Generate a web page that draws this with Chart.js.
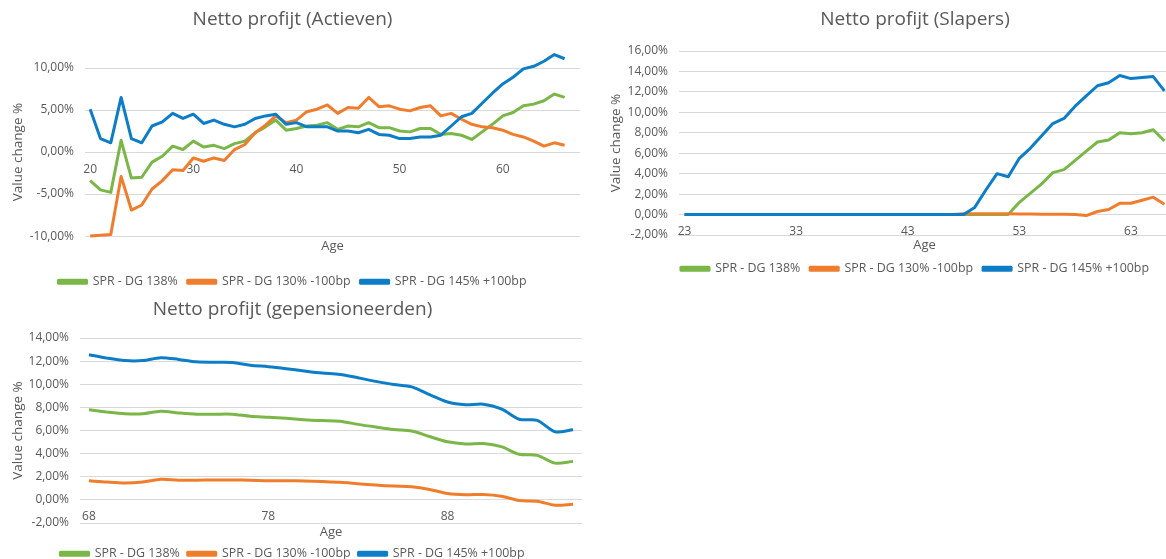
<!DOCTYPE html>
<html>
<head>
<meta charset="utf-8">
<script src="https://cdn.jsdelivr.net/npm/chart.js@4"></script>
<style>
html, body { margin: 0; padding: 0; background: #fff; width: 1166px; height: 559px; overflow: hidden; position: relative; }
.box { position: absolute; }
</style>
</head>
<body>
<div class="box" style="left:0;top:0;width:585px;height:298px"><canvas id="actieven"></canvas></div>
<div class="box" style="left:598px;top:0;width:634px;height:285px"><canvas id="slapers"></canvas></div>
<div class="box" style="left:0;top:295px;width:585px;height:275px"><canvas id="pension"></canvas></div>
<script>
// Netto profijt (Actieven)
const actAges = [20,21,22,23,24,25,26,27,28,29,30,31,32,33,34,35,36,37,38,39,40,41,42,43,44,45,46,47,48,49,50,51,52,53,54,55,56,57,58,59,60,61,62,63,64,65,66,67];
const actGreen = [-3.4,-4.5,-4.8,1.4,-3.1,-3.0,-1.2,-0.5,0.7,0.3, 1.3,0.6,0.8,0.4,1.0,1.3,2.3,3.0,3.8,2.6, 2.8,3.1,3.2,3.5,2.7,3.1,3.0,3.5,2.9,2.9, 2.5,2.4,2.8,2.8,2.1,2.2,2.0,1.5,2.4,3.3, 4.3,4.7,5.5,5.7,6.1,6.9,6.5];
const actOrange = [-10.0,-9.9,-9.8,-2.9,-6.9,-6.3,-4.4,-3.4,-2.1,-2.2, -0.7,-1.1,-0.7,-1.0,0.3,0.9,2.3,3.2,4.3,3.5, 3.8,4.8,5.1,5.6,4.6,5.3,5.2,6.5,5.4,5.5, 5.1,4.9,5.3,5.5,4.3,4.6,3.9,3.3,3.0,2.9, 2.6,2.1,1.8,1.3,0.7,1.1,0.8];
const actBlue = [5.1,1.6,1.1,6.5,1.6,1.1,3.1,3.6,4.6,4.0, 4.5,3.4,3.8,3.3,3.0,3.3,4.0,4.3,4.5,3.3, 3.5,3.0,3.0,3.0,2.5,2.5,2.3,2.7,2.1,2.0, 1.6,1.6,1.8,1.8,2.0,3.1,4.2,4.6,5.8,7.0, 8.1,8.9,9.9,10.2,10.8,11.6,11.1];

// Netto profijt (Slapers)
const slapAges = [23,24,25,26,27,28,29,30,31,32,33,34,35,36,37,38,39,40,41,42,43,44,45,46,47,48,49,50,51,52,53,54,55,56,57,58,59,60,61,62,63,64,65,66];
const slapGreen = [0,0,0,0,0,0,0,0,0,0, 0,0,0,0,0,0,0,0,0,0, 0,0,0,0,0,0,0,0,0,0, 1.2,2.1,3.0,4.1,4.4,5.3,6.2,7.1,7.3,8.0, 7.9,8.0,8.3,7.2];
const slapOrange = [0,0,0,0,0,0,0,0,0,0, 0,0,0,0,0,0,0,0,0,0, 0,0,0,0,0,0.08,0.08,0.08,0.07,0.07, 0.06,0.05,0.04,0.03,0.02,0.0,-0.1,0.3,0.5,1.1, 1.1,1.4,1.7,1.0];
const slapBlue = [0,0,0,0,0,0,0,0,0,0, 0,0,0,0,0,0,0,0,0,0, 0,0,0,0,0,0,0.7,2.4,4.0,3.7, 5.5,6.5,7.7,8.9,9.4,10.6,11.6,12.6,12.9,13.6, 13.3,13.4,13.5,12.1];

// Netto profijt (gepensioneerden)
const pensAges = [68,69,70,71,72,73,74,75,76,77,78,79,80,81,82,83,84,85,86,87,88,89,90,91,92,93,94,95];
const pensGreen = [7.79,7.59,7.44,7.44,7.67,7.52,7.41,7.41,7.41,7.23, 7.15,7.06,6.94,6.86,6.8,6.53,6.3,6.09,5.95,5.48, 5.02,4.84,4.87,4.6,3.94,3.85,3.18,3.33];
const pensOrange = [1.66,1.54,1.46,1.54,1.78,1.7,1.7,1.72,1.72,1.7, 1.66,1.66,1.63,1.58,1.52,1.4,1.28,1.19,1.13,0.9, 0.55,0.44,0.47,0.32,-0.06,-0.12,-0.46,-0.37];
const pensBlue = [12.55,12.26,12.05,12.05,12.3,12.15,11.94,11.9,11.88,11.64, 11.52,11.35,11.15,10.97,10.85,10.56,10.25,9.98,9.77,9.1, 8.46,8.23,8.28,7.88,6.97,6.88,5.89,6.07];

const seriesNames = ['SPR - DG 138%', 'SPR - DG 130% -100bp', 'SPR - DG 145% +100bp'];
const GREEN = '#7ab648', ORANGE = '#f07d2c', BLUE = '#0c7dc6', GREY = '#595959';

Chart.defaults.font.family = "'Open Sans', sans-serif";
Chart.defaults.color = GREY;

const pct = v => v.toFixed(2).replace('.', ',') + '%';

function build(id, c) {
  return new Chart(document.getElementById(id), {
    type: 'line',
    data: {
      labels: c.labels,
      datasets: [
        { label: seriesNames[0], data: c.green, borderColor: GREEN, backgroundColor: GREEN, order: 3 },
        { label: seriesNames[1], data: c.orange, borderColor: ORANGE, backgroundColor: ORANGE, order: 2 },
        { label: seriesNames[2], data: c.blue, borderColor: BLUE, backgroundColor: BLUE, order: 1 }
      ]
    },
    options: {
      responsive: true,
      maintainAspectRatio: false,
      animation: false,
      clip: false,
      elements: {
        point: { radius: 0 },
        line: { borderWidth: 3, tension: c.tension, borderJoinStyle: 'round' }
      },
      plugins: {
        title: { display: true, text: c.title, color: GREY, font: { size: 19, weight: 'normal' }, padding: { top: c.titleTop, bottom: c.titleBottom } },
        legend: { position: 'bottom', reverse: true, labels: { boxWidth: 28, boxHeight: 3, color: GREY, font: { size: 12.4 }, padding: c.legendPad } },
        tooltip: { enabled: false }
      },
      scales: {
        x: {
          type: 'category', position: { y: 0 }, offset: true,
          grid: { display: false, drawTicks: false }, border: { display: false },
          ticks: { autoSkip: false, maxRotation: 0, padding: 10, color: GREY, font: { size: 12 },
            callback: function (v, i) { return i % 10 === 0 ? this.getLabelForValue(v) : ''; } }
        },
        x2: {
          type: 'category', position: 'bottom', offset: true,
          grid: { display: false, drawTicks: false }, border: { display: false }, ticks: { display: false },
          title: { display: true, text: 'Age', color: GREY, font: { size: 13 }, padding: { top: c.ageTop, bottom: c.ageBottom } }
        },
        y: {
          min: c.min, max: c.max,
          ticks: { stepSize: c.step, padding: 11, color: GREY, font: { size: 12 }, callback: pct },
          grid: { color: '#d9d9d9', drawTicks: false },
          border: { display: false },
          title: { display: true, text: 'Value change %', color: GREY, font: { size: 13.5 }, padding: { top: 10, bottom: 0 } },
          afterFit: s => { s.width = c.yWidth; }
        },
        // empty right-hand margin so the title and legend stay centred on the full canvas
        yr: {
          display: true, position: 'right', min: c.min, max: c.max,
          grid: { display: false, drawTicks: false }, border: { display: false }, ticks: { display: false },
          afterFit: s => { s.width = c.padRight; }
        }
      }
    }
  });
}

build('actieven', { labels: actAges, green: actGreen, orange: actOrange, blue: actBlue,
  title: 'Netto profijt (Actieven)', min: -10, max: 10, step: 5, tension: 0,
  yWidth: 85, padRight: 4, titleTop: 8.6, titleBottom: 36.6, ageTop: 2, ageBottom: 11.9, legendPad: 10 });
build('slapers', { labels: slapAges, green: slapGreen, orange: slapOrange, blue: slapBlue,
  title: 'Netto profijt (Slapers)', min: -2, max: 16, step: 2, tension: 0,
  yWidth: 81, padRight: 62, titleTop: 8.6, titleBottom: 19.6, ageTop: 2, ageBottom: 0, legendPad: 10 });
build('pension', { labels: pensAges, green: pensGreen, orange: pensOrange, blue: pensBlue,
  title: 'Netto profijt (gepensioneerden)', min: -2, max: 14, step: 2, tension: 0.3,
  yWidth: 80, padRight: 3, titleTop: 3.6, titleBottom: 16.6, ageTop: 1, ageBottom: 0, legendPad: 8 });
</script>
</body>
</html>
